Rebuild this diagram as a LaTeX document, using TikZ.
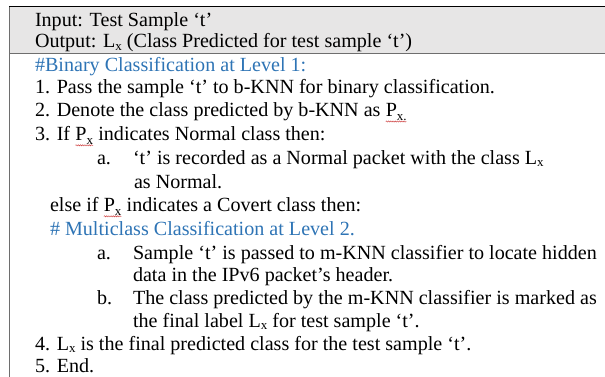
\documentclass[tikz,border=0pt]{standalone}
\usepackage{fontspec}
\setmainfont{Liberation Serif}
\usetikzlibrary{decorations.pathmorphing}

\definecolor{hdrgray}{RGB}{231,230,230}
\definecolor{hashblue}{RGB}{46,116,181}
\definecolor{squigred}{RGB}{205,60,60}
\definecolor{rulegray}{RGB}{110,110,110}

% small lowered "x" used as subscript
\newcommand\subtxt[1]{\raisebox{-0.12em}{\fontsize{13pt}{13pt}\selectfont #1}}
\newcommand\Lx{L\subtxt{x}}
% P_x with a red wavy spell-check underline
\newcommand\Px[1]{\tikz[baseline=(p.base)]{%
  \node[inner sep=0pt,outer sep=0pt,anchor=base west](p){P\raisebox{-0.2em}{\fontsize{13pt}{13pt}\selectfont x#1}};
  \draw[squigred,line width=0.45pt,decorate,decoration={snake,amplitude=0.6pt,segment length=2.2pt}]
    ([yshift=-0.8pt]p.south west) -- ([yshift=-0.8pt]p.south east);}}

\begin{document}
\begin{tikzpicture}[x=1pt,y=-1pt,
  txt/.style={anchor=base west,inner sep=0pt,outer sep=0pt,font=\fontsize{20.1pt}{23pt}\selectfont},
  hash/.style={txt,text=hashblue}]
\useasboundingbox (0,0) rectangle (605,377);

% header band and rules
\fill[hdrgray] (9,7) rectangle (605,53.5);
\draw[black,line width=1pt] (9,7) -- (605,7);
\draw[rulegray,line width=1pt] (9,53.5) -- (605,53.5);
\draw[rulegray,line width=0.8pt] (9,7) -- (9,377);

% algorithm lines
\node[txt] (in) at (35,26.7) {Input: Test Sample ‘t’};
\node[txt] (out) at (35,48) {Output: \Lx\ (Class Predicted for test sample ‘t’)};
\node[hash] (lv1) at (35,71.5) {\#Binary Classification at Level 1:};
\node[txt] (s1) at (35,94) {1. Pass the sample ‘t’ to b-KNN for binary classification.};
\node[txt] (s2) at (35,116.5) {2. Denote the class predicted by b-KNN as \Px{.}};
\node[txt] (s3) at (35,140.5) {3. If \Px{} indicates Normal class then:};
\node[txt] (s3a) at (97,164.5) {a.};
\node[txt] (s3at) at (133,164.5) {‘t’ is recorded as a Normal packet with the class \Lx};
\node[txt] (s3at2) at (134,188) {as Normal.};
\node[txt] (els) at (50,211.5) {else if \Px{} indicates a Covert class then:};
\node[hash] (lv2) at (50,235) {\# Multiclass Classification at Level 2.};
\node[txt] (ma) at (97,259) {a.};
\node[txt] (mat) at (133,259) {Sample ‘t’ is passed to m-KNN classifier to locate hidden};
\node[txt] (mat2) at (133,281.5) {data in the IPv6 packet’s header.};
\node[txt] (mb) at (97,304.5) {b.};
\node[txt] (mbt) at (133,304.5) {The class predicted by the m-KNN classifier is marked as};
\node[txt] (mbt2) at (133,327) {the final label \Lx\ for test sample ‘t’.};
\node[txt] (s4) at (35,350) {4. \Lx\ is the final predicted class for the test sample ‘t’.};
\node[txt] (s5) at (35,372) {5. End.};
\end{tikzpicture}
\end{document}
